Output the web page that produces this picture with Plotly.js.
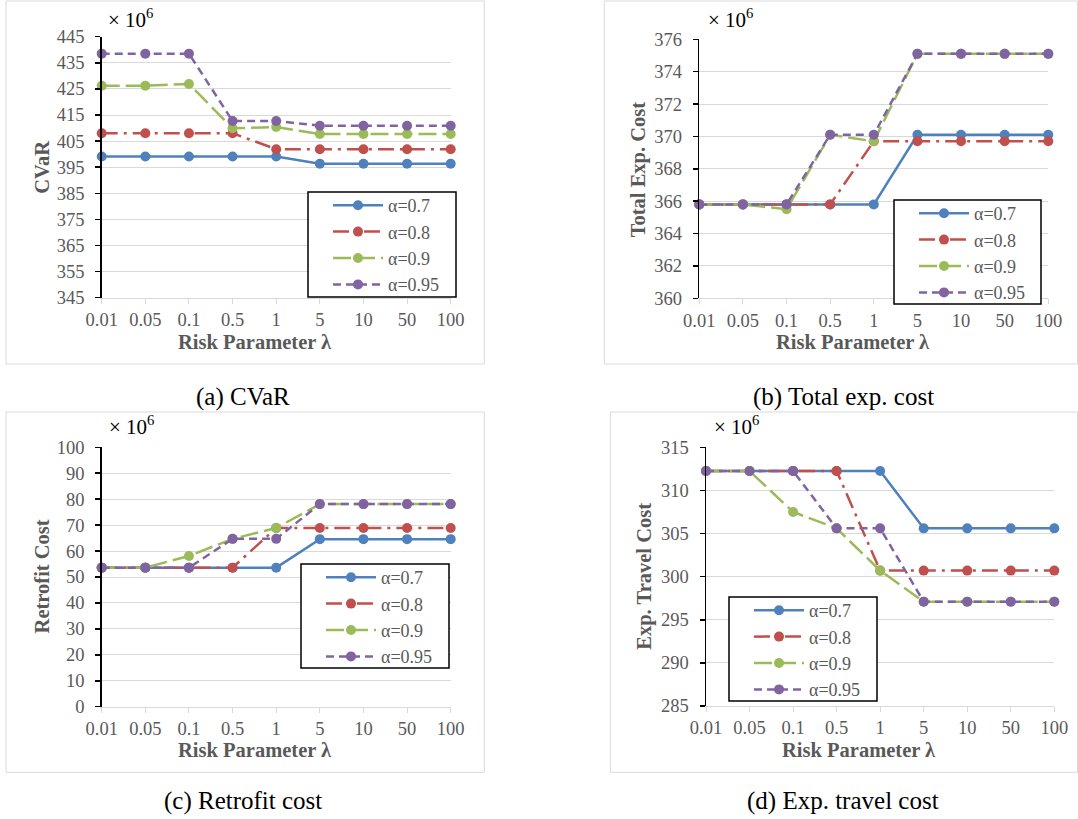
<!DOCTYPE html>
<html>
<head>
<meta charset="utf-8">
<script src="https://cdn.plot.ly/plotly-3.0.1.min.js"></script>
<style>html,body{margin:0;padding:0;background:#fff;}#chart{width:1078px;height:819px;}</style>
</head>
<body>
<div id="chart"></div>
<script>
// ---- data ----
const lambdaLabels = ['0.01','0.05','0.1','0.5','1','5','10','50','100'];
const seriesNames = ['α=0.7','α=0.8','α=0.9','α=0.95'];

const cvar_a07  = [399.1,399.1,399.1,399.1,399.1,396.3,396.3,396.3,396.3];
const cvar_a08  = [408.0,408.0,408.0,408.0,401.9,401.9,401.9,401.9,401.9];
const cvar_a09  = [426.2,426.2,426.9,409.9,410.4,407.7,407.7,407.7,407.7];
const cvar_a095 = [438.5,438.5,438.5,412.7,412.7,410.9,410.9,410.9,410.9];

const total_a07  = [365.8,365.8,365.8,365.8,365.8,370.1,370.1,370.1,370.1];
const total_a08  = [365.8,365.8,365.8,365.8,369.7,369.7,369.7,369.7,369.7];
const total_a09  = [365.8,365.8,365.5,370.1,369.7,375.1,375.1,375.1,375.1];
const total_a095 = [365.8,365.8,365.8,370.1,370.1,375.1,375.1,375.1,375.1];

const retro_a07  = [53.6,53.6,53.6,53.6,53.6,64.6,64.6,64.6,64.6];
const retro_a08  = [53.6,53.6,53.6,53.6,68.9,68.9,68.9,68.9,68.9];
const retro_a09  = [53.6,53.6,58.1,64.7,68.9,78.1,78.1,78.1,78.1];
const retro_a095 = [53.6,53.6,53.6,64.7,64.7,78.1,78.1,78.1,78.1];

const travel_a07  = [312.25,312.25,312.25,312.25,312.25,305.6,305.6,305.6,305.6];
const travel_a08  = [312.25,312.25,312.25,312.25,300.7,300.7,300.7,300.7,300.7];
const travel_a09  = [312.25,312.25,307.5,305.6,300.7,297.1,297.1,297.1,297.1];
const travel_a095 = [312.25,312.25,312.25,305.6,305.6,297.1,297.1,297.1,297.1];

const yTitles = ['CVaR','Total Exp. Cost','Retrofit Cost','Exp. Travel Cost'];
const captions = ['(a) CVaR','(b) Total exp. cost','(c) Retrofit cost','(d) Exp. travel cost'];
const xTitle = 'Risk Parameter λ';
const multiplier = '× 10<sup>6</sup>';

// ---- styling / layout ----
const W = 1078, H = 819;
const px = x => x / W;
const py = y => 1 - y / H;

const colors = ['#4F81BD','#C0504D','#9BBB59','#8064A2'];
const dashes = ['solid','16px,6px,3px,6px','18px,6px','8px,5px'];

const panels = [
  {data:[cvar_a07,cvar_a08,cvar_a09,cvar_a095], range:[345,445], dtick:10,
   plot:[101.7,450.7,36.7,297.7], border:[6,484.3,1,364], legendBox:[308,456,192,297],
   yTitle:[41.7,167], xTitle:[255,341.7], mult:[106,18], caption:[243,397]},
  {data:[total_a07,total_a08,total_a09,total_a095], range:[360,376], dtick:2,
   plot:[699.3,1048.3,39.3,298.3], border:[604.3,1077.5,1,364], legendBox:[894,1041,200,304],
   yTitle:[639.3,169], xTitle:[853,341.7], mult:[706,18], caption:[843,397]},
  {data:[retro_a07,retro_a08,retro_a09,retro_a095], range:[0,100], dtick:10,
   plot:[101.7,450.7,447.3,706.7], border:[6,484.3,412,772.3], legendBox:[301,449,564,668],
   yTitle:[41.7,576.7], xTitle:[255,750], mult:[107,425.7], caption:[243,801]},
  {data:[travel_a07,travel_a08,travel_a09,travel_a095], range:[285,315], dtick:5,
   plot:[706,1054.3,447.3,706], border:[610.3,1077.5,412,772.3], legendBox:[729,877,597,701],
   yTitle:[645,576.7], xTitle:[859,750], mult:[711.7,425], caption:[843,801]}
];

const serif = 'Liberation Serif, Times New Roman, serif';
const gray = '#595959';
const traces = [];
const layout = {
  width: W, height: H,
  margin: {l:0, r:0, t:0, b:0},
  paper_bgcolor: '#ffffff', plot_bgcolor: 'rgba(0,0,0,0)',
  showlegend: true,
  shapes: [], annotations: []
};

panels.forEach((p, i) => {
  const n = i === 0 ? '' : String(i + 1);
  const legendKey = 'legend' + n;
  p.data.forEach((vals, s) => {
    traces.push({
      type: 'scatter', mode: 'lines+markers',
      x: lambdaLabels, y: vals, name: seriesNames[s],
      xaxis: 'x' + n, yaxis: 'y' + n, legend: legendKey,
      line: {color: colors[s], width: 2.5, dash: dashes[s]},
      marker: {color: colors[s], size: 10, symbol: 'circle'},
      cliponaxis: false, hoverinfo: 'skip'
    });
  });
  layout['xaxis' + n] = {
    type: 'category', categoryorder: 'array', categoryarray: lambdaLabels,
    range: [0, 8], domain: [px(p.plot[0]), px(p.plot[1])],
    anchor: 'y' + n, showgrid: false, zeroline: false,
    showline: true, linecolor: '#d9d9d9', linewidth: 1,
    ticks: 'outside', ticklen: 5, tickcolor: '#d9d9d9', tickwidth: 1,
    tickfont: {family: serif, size: 18.5, color: gray}, fixedrange: true
  };
  layout['yaxis' + n] = {
    range: p.range, tick0: p.range[0], dtick: p.dtick,
    domain: [py(p.plot[3]), py(p.plot[2])],
    anchor: 'x' + n, showgrid: true, gridcolor: '#d9d9d9', gridwidth: 1, zeroline: false,
    showline: true, linecolor: '#000000', linewidth: 1.5,
    ticks: 'outside', ticklen: 5, tickcolor: '#000000', tickwidth: 1.5,
    ticklabelstandoff: 7,
    tickfont: {family: serif, size: 18.5, color: gray}, fixedrange: true
  };
  // panel border
  layout.shapes.push({type:'rect', xref:'paper', yref:'paper', layer:'below',
    x0: px(p.border[0]), x1: px(p.border[1]), y0: py(p.border[3]), y1: py(p.border[2]),
    line: {color:'#d9d9d9', width:1}, fillcolor:'rgba(0,0,0,0)'});
  // legend box
  layout.shapes.push({type:'rect', xref:'paper', yref:'paper', layer:'above',
    x0: px(p.legendBox[0]), x1: px(p.legendBox[1]), y0: py(p.legendBox[3]), y1: py(p.legendBox[2]),
    line: {color:'#000000', width:1.5}, fillcolor:'#ffffff'});
  layout[legendKey] = {
    x: px(p.legendBox[0] + 20), y: py(p.legendBox[2] - 5),
    xanchor: 'left', yanchor: 'top',
    bgcolor: 'rgba(0,0,0,0)', borderwidth: 0,
    font: {family: serif, size: 18, color: gray},
    itemwidth: 50, traceorder: 'normal'
  };
  // y title
  layout.annotations.push({xref:'paper', yref:'paper', x: px(p.yTitle[0]), y: py(p.yTitle[1]),
    text: yTitles[i], textangle: -90, showarrow: false, xanchor:'center', yanchor:'middle',
    font: {family: serif, size: 20.5, color: gray, weight: 'bold'}});
  // x title
  layout.annotations.push({xref:'paper', yref:'paper', x: px(p.xTitle[0]), y: py(p.xTitle[1]),
    text: xTitle, showarrow: false, xanchor:'center', yanchor:'middle',
    font: {family: serif, size: 20.5, color: gray, weight: 'bold'}});
  // multiplier
  layout.annotations.push({xref:'paper', yref:'paper', x: px(p.mult[0]), y: py(p.mult[1]),
    text: multiplier, showarrow: false, xanchor:'left', yanchor:'middle',
    font: {family: serif, size: 21, color: '#000000'}});
  // caption
  layout.annotations.push({xref:'paper', yref:'paper', x: px(p.caption[0]), y: py(p.caption[1]),
    text: captions[i], showarrow: false, xanchor:'center', yanchor:'middle',
    font: {family: serif, size: 25, color: '#000000'}});
});

Plotly.newPlot('chart', traces, layout, {displayModeBar: false, staticPlot: true});
</script>
</body>
</html>
